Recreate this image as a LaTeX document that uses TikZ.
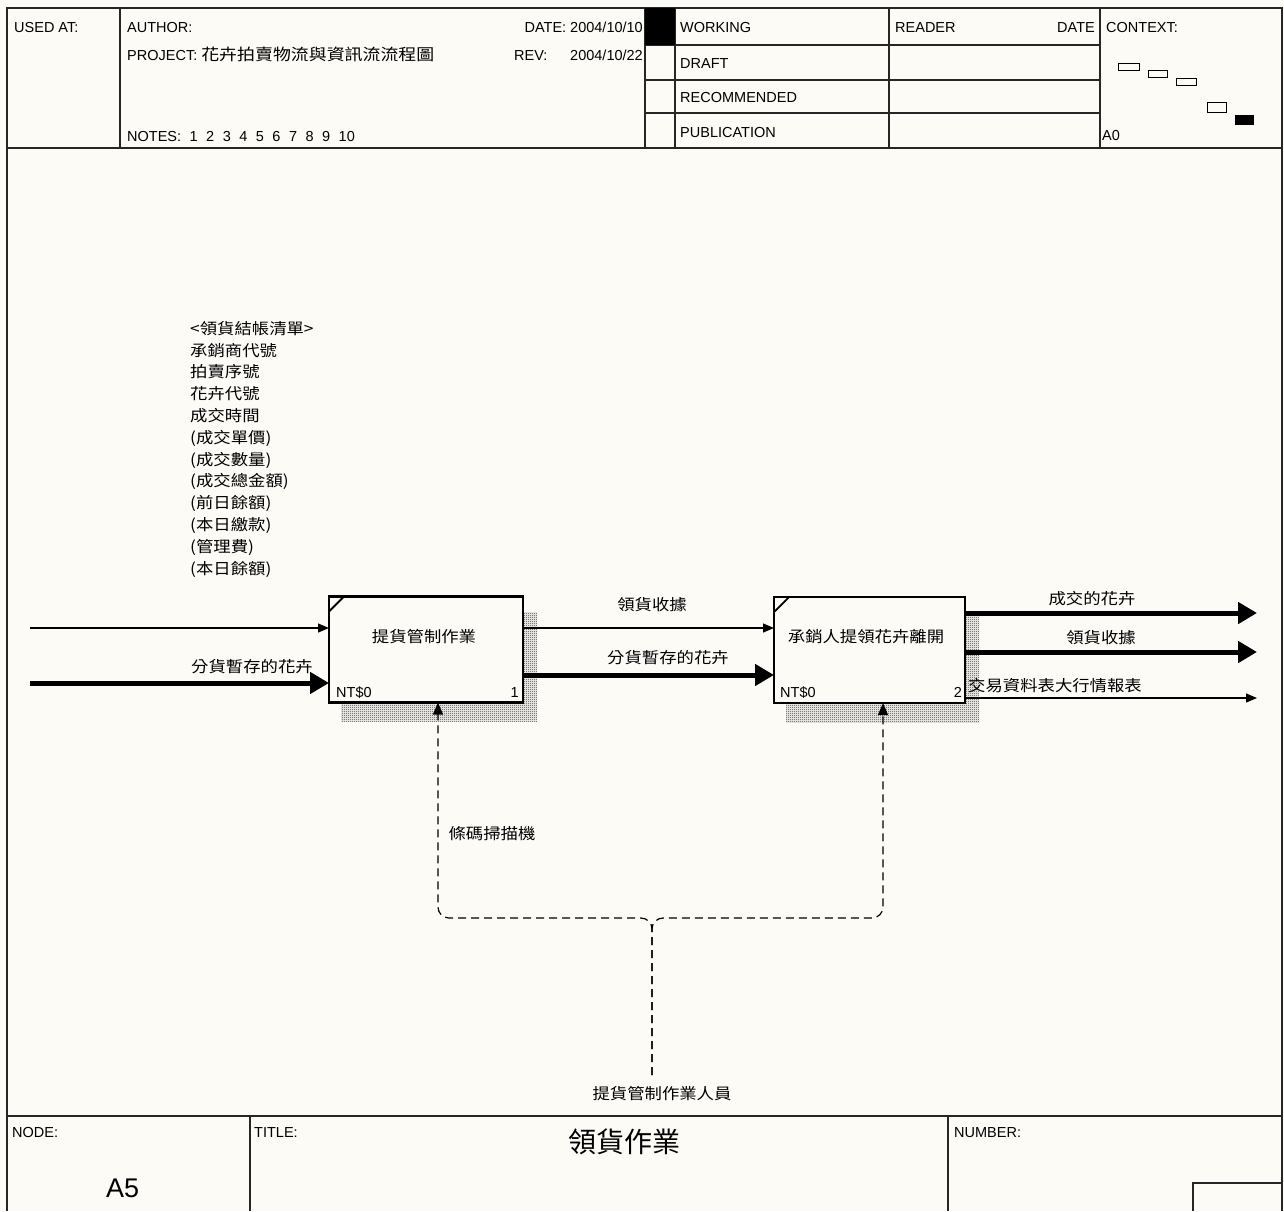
\documentclass[tikz,border=0pt]{standalone}
\usepackage{fontspec}
\setmainfont{Liberation Sans}
\newfontfamily\cjk[FakeStretch=1.12]{Noto Sans CJK TC}
\newfontfamily\cjkbig{Noto Sans CJK TC}
\usetikzlibrary{arrows.meta,patterns,backgrounds}
\definecolor{paper}{HTML}{FDFBF6}
\pgfdeclarepatternformonly{idefshadow}{\pgfqpoint{0pt}{0pt}}{\pgfqpoint{2pt}{2pt}}{\pgfqpoint{2pt}{2pt}}{%
  \pgfpathrectangle{\pgfqpoint{0pt}{0pt}}{\pgfqpoint{1pt}{1pt}}%
  \pgfpathrectangle{\pgfqpoint{1pt}{1pt}}{\pgfqpoint{1pt}{1pt}}%
  \pgfusepath{fill}}

\begin{document}
\begin{tikzpicture}[
  x=1pt,y=-1pt,
  frame/.style={line width=1.4pt,draw=black!85},
  hdr/.style={font=\fontsize{14.5}{16}\selectfont,inner sep=0pt,anchor=base west},
  zh/.style={font=\cjk\fontsize{15.5}{21.8}\selectfont,inner sep=0pt},
  act/.style={draw,line width=2.6pt,fill=paper,minimum width=194pt,minimum height=106pt,inner sep=0pt,outer sep=0pt},
  hatch/.style={pattern=idefshadow,pattern color=black!80},
  tick/.style={line width=1.8pt},
  flow/.style={line width=1.3pt,-{Triangle[length=11pt,width=9pt]}},
  bigflow/.style={line width=5pt,-{Triangle[length=19pt,width=21pt]}},
  mech/.style={line width=1.2pt,dash pattern=on 8pt off 5pt,rounded corners=11pt,-{Triangle[length=12pt,width=10pt]}}
]
  \begin{scope}[on background layer]
    \fill[paper] (0,0) rectangle (1284,1211);
  \end{scope}
  \useasboundingbox (0,0) rectangle (1284,1211);

  % form frame
  \draw[frame] (7,1211) -- (7,8) -- (1282,8) -- (1282,1211);
  \draw[frame,line width=2.4pt] (7,148) -- (1282,148);
  \draw[frame] (120,8) -- (120,148) (645,8) -- (645,148) (675,8) -- (675,148)
    (889,8) -- (889,148) (1100,8) -- (1100,148);
  \draw[frame] (645,45) -- (1100,45) (645,80) -- (1100,80) (645,113) -- (1100,113);
  \fill (645,8) rectangle (675,45);
  \draw[line width=1pt] (1118,63) rectangle (1139,70) (1148,70) rectangle (1167,77)
    (1176,78) rectangle (1196,85) (1207,102) rectangle (1226,112);
  \fill (1235,115) rectangle (1254,125);
  \draw[frame,line width=2.4pt] (7,1116) -- (1282,1116);
  \draw[frame] (250,1116) -- (250,1211) (948,1116) -- (948,1211);
  \draw[frame] (1193,1211) -- (1193,1183) -- (1282,1183);

  \node[hdr] (usedat) at (14,32) {USED AT:};
  \node[hdr] (author) at (127,32) {AUTHOR:};
  \node[hdr] (project) at (127,60) {PROJECT: {\cjk\fontsize{16}{18}\selectfont 花卉拍賣物流與資訊流流程圖}};
  \node[hdr] (notes) at (127,141) {\spaceskip=8.5pt NOTES: 1 2 3 4 5 6 7 8 9 10};
  \node[hdr,anchor=base east] (date) at (643,32) {DATE: 2004/10/10};
  \node[hdr] (rev) at (514,60) {REV:};
  \node[hdr,anchor=base east] (revdate) at (643,60) {2004/10/22};
  \node[hdr] (working) at (680,32) {WORKING};
  \node[hdr] (draft) at (680,68) {DRAFT};
  \node[hdr] (recommended) at (680,102) {RECOMMENDED};
  \node[hdr] (publication) at (680,137) {PUBLICATION};
  \node[hdr] (reader) at (895,32) {READER};
  \node[hdr,anchor=base east] (readdate) at (1095,32) {DATE};
  \node[hdr] (context) at (1106,32) {CONTEXT:};
  \node[hdr] (ctxnode) at (1102,140) {A0};
  \node[hdr] (nodelbl) at (12,1137) {NODE:};
  \node[hdr] (titlelbl) at (254,1137) {TITLE:};
  \node[hdr] (numberlbl) at (954,1137) {NUMBER:};
  \node[font=\fontsize{27}{30}\selectfont,inner sep=0pt,anchor=base west] (nodeno) at (106,1197) {A5};
  \node[font=\cjkbig\fontsize{28}{30}\selectfont,inner sep=0pt] (title) at (624,1142) {領貨作業};

  % activities
  \node[act] (a1) at (426,649.5) {};
  \node[act,minimum width=191pt] (a2) at (869.5,650) {};
  \draw[tick] ([yshift=-15pt]a1.north west) -- ([xshift=15pt]a1.north west);
  \draw[tick] ([yshift=-15pt]a2.north west) -- ([xshift=15pt]a2.north west);
  \begin{scope}[on background layer]
    \fill[hatch] ([shift={(12pt,-19pt)}]a1.south west) rectangle ([shift={(14pt,-16pt)}]a1.north east);
    \fill[hatch] ([shift={(12pt,-19pt)}]a2.south west) rectangle ([shift={(14pt,-16pt)}]a2.north east);
  \end{scope}
  \node[zh] (a1name) at (424,637) {提貨管制作業};
  \node[zh] (a2name) at (866,637) {承銷人提領花卉離開};
  \node[hdr] (a1cost) at (336,697) {NT\$0};
  \node[hdr,anchor=base east] (a1num) at (519,697) {1};
  \node[hdr] (a2cost) at (780,697) {NT\$0};
  \node[hdr,anchor=base east] (a2num) at (962,697) {2};

  % arrows
  \coordinate (slipin) at (30,628);
  \coordinate (goodsin) at (30,683);
  \draw[flow] (slipin) -- (slipin -| a1.west);
  \draw[bigflow] (goodsin) -- (goodsin -| a1.west);
  \coordinate (rcptmid) at (650,628);
  \coordinate (goodsmid) at (650,675);
  \draw[flow] (a1.east |- rcptmid) -- (a2.west |- rcptmid);
  \draw[bigflow] (a1.east |- goodsmid) -- (a2.west |- goodsmid);
  \coordinate (dealout) at (1257,613);
  \coordinate (rcptout) at (1257,652);
  \coordinate (reportout) at (1257,698);
  \draw[bigflow] (a2.east |- dealout) -- (dealout);
  \draw[bigflow] (a2.east |- rcptout) -- (rcptout);
  \draw[flow] (a2.east |- reportout) -- (reportout);

  \coordinate (staffup) at (652,1075);
  \coordinate (split) at (652,918);
  \coordinate (m1) at (438,918);
  \coordinate (m2) at (883,918);
  \draw[mech] (staffup) -- (split) -- (m1) -- (m1 |- a1.south);
  \draw[mech] (staffup) -- (split) -- (m2) -- (m2 |- a2.south);

  % labels
  \node[zh,align=left,anchor=north west] (slip) at (190,321) {<領貨結帳清單>\\承銷商代號\\拍賣序號\\花卉代號\\成交時間\\(成交單價)\\(成交數量)\\(成交總金額)\\(前日餘額)\\(本日繳款)\\(管理費)\\(本日餘額)};
  \node[zh] (goodslbl) at (252,667) {分貨暫存的花卉};
  \node[zh] (rcptlbl) at (652,605) {領貨收據};
  \node[zh] (goodsmidlbl) at (668,658) {分貨暫存的花卉};
  \node[zh] (deallbl) at (1092,599) {成交的花卉};
  \node[zh] (rcptoutlbl) at (1101,638) {領貨收據};
  \node[zh] (reportlbl) at (1055,686) {交易資料表大行情報表};
  \node[zh] (scanner) at (492,834) {條碼掃描機};
  \node[zh] (staff) at (662,1094) {提貨管制作業人員};
\end{tikzpicture}
\end{document}
